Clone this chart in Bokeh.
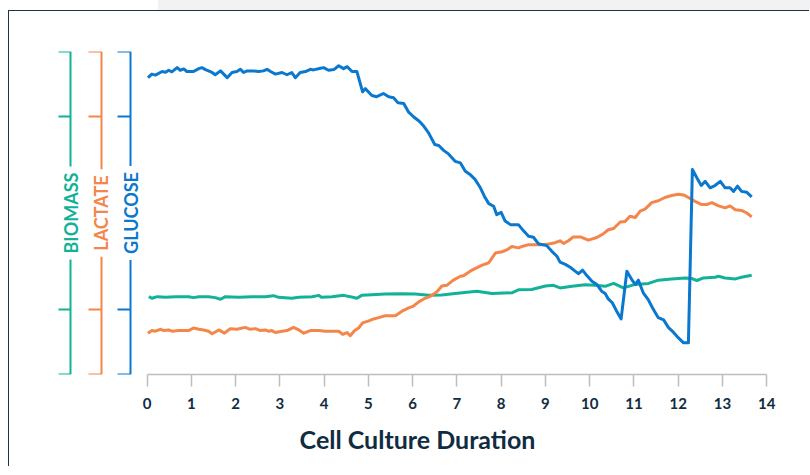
import math
from bokeh.plotting import figure
from bokeh.models import Range1d, LinearAxis, FixedTicker, Label
from bokeh.embed import file_html
from bokeh.resources import INLINE

# ---- data ----
glucose_days = [0.02, 0.11, 0.19, 0.34, 0.42, 0.49, 0.56, 0.68, 0.75, 0.83, 0.90, 1.05, 1.17, 1.24, 1.32,
                1.47, 1.54, 1.66, 1.81, 1.92, 2.03, 2.11, 2.18, 2.26, 2.41, 2.52, 2.63, 2.71, 2.79, 2.90,
                3.05, 3.16, 3.27, 3.35, 3.46, 3.58, 3.69, 3.76, 3.92, 3.99, 4.10, 4.22, 4.33, 4.44, 4.52,
                4.63, 4.74, 4.87, 4.93, 5.08, 5.19, 5.34, 5.46, 5.57, 5.67, 5.80, 5.91, 6.02, 6.15, 6.25,
                6.36, 6.50, 6.59, 6.70, 6.81, 6.96, 7.08, 7.19, 7.30, 7.41, 7.53, 7.64, 7.72, 7.83, 7.90,
                8.00, 8.09, 8.21, 8.39, 8.51, 8.62, 8.73, 8.84, 9.03, 9.14, 9.26, 9.33, 9.45, 9.56, 9.67,
                9.75, 9.84, 9.93, 10.05, 10.16, 10.27, 10.35, 10.42, 10.51, 10.61, 10.71, 10.84, 10.95,
                11.03, 11.10, 11.21, 11.33, 11.44, 11.55, 11.67, 11.78, 11.89, 12.00, 12.12, 12.23, 12.32,
                12.42, 12.52, 12.61, 12.72, 12.83, 12.95, 13.06, 13.17, 13.25, 13.34, 13.43, 13.55, 13.66]
glucose = [9.19, 9.30, 9.27, 9.38, 9.36, 9.42, 9.37, 9.50, 9.42, 9.46, 9.38, 9.38, 9.47, 9.50, 9.44,
           9.35, 9.28, 9.40, 9.19, 9.35, 9.38, 9.45, 9.35, 9.40, 9.40, 9.38, 9.40, 9.45, 9.38, 9.30,
           9.35, 9.28, 9.35, 9.19, 9.35, 9.38, 9.45, 9.43, 9.48, 9.50, 9.42, 9.44, 9.56, 9.47, 9.53,
           9.38, 9.38, 8.75, 8.85, 8.64, 8.60, 8.70, 8.60, 8.57, 8.41, 8.39, 8.12, 7.98, 7.84, 7.69,
           7.48, 7.12, 7.09, 6.94, 6.83, 6.60, 6.55, 6.29, 6.19, 6.04, 5.78, 5.47, 5.29, 5.21, 4.95,
           5.02, 4.75, 4.64, 4.64, 4.44, 4.28, 4.25, 4.05, 3.99, 3.82, 3.66, 3.48, 3.41, 3.32, 3.20,
           3.12, 3.23, 3.07, 2.89, 2.79, 2.58, 2.51, 2.34, 2.22, 1.96, 1.72, 3.20, 2.94,
           2.79, 2.92, 2.53, 2.30, 2.01, 1.76, 1.69, 1.45, 1.31, 1.14, 0.98, 0.98, 6.35,
           6.09, 5.85, 5.98, 5.78, 5.85, 5.98, 5.78, 5.78, 5.67, 5.83, 5.67, 5.64, 5.50]

lactate_days = [0.02, 0.11, 0.19, 0.30, 0.38, 0.49, 0.56, 0.72, 0.94, 1.05, 1.17, 1.28, 1.39, 1.47, 1.62,
                1.75, 1.88, 2.03, 2.22, 2.33, 2.45, 2.56, 2.67, 2.75, 2.82, 2.90, 3.05, 3.16, 3.31, 3.43,
                3.54, 3.69, 3.88, 4.03, 4.18, 4.33, 4.42, 4.52, 4.59, 4.69, 4.78, 4.87, 5.01, 5.12, 5.23,
                5.38, 5.61, 5.76, 5.91, 6.02, 6.13, 6.25, 6.40, 6.55, 6.66, 6.77, 6.92, 7.08, 7.15, 7.30,
                7.41, 7.56, 7.72, 7.87, 8.02, 8.13, 8.24, 8.39, 8.51, 8.62, 8.77, 8.92, 9.07, 9.22, 9.33,
                9.41, 9.52, 9.63, 9.79, 9.97, 10.16, 10.31, 10.42, 10.54, 10.69, 10.80, 10.91, 11.03,
                11.14, 11.25, 11.40, 11.55, 11.70, 11.85, 12.00, 12.12, 12.23, 12.38, 12.53, 12.64,
                12.76, 12.91, 13.06, 13.17, 13.29, 13.43, 13.55, 13.66]
lactate = [0.64, 0.68, 0.67, 0.70, 0.68, 0.69, 0.67, 0.68, 0.68, 0.72, 0.70, 0.69, 0.67, 0.63, 0.69,
           0.64, 0.71, 0.70, 0.73, 0.70, 0.71, 0.68, 0.69, 0.67, 0.68, 0.65, 0.67, 0.68, 0.73, 0.69,
           0.64, 0.68, 0.68, 0.67, 0.67, 0.67, 0.62, 0.65, 0.60, 0.68, 0.72, 0.80, 0.83, 0.86, 0.88,
           0.91, 0.91, 0.98, 1.03, 1.06, 1.12, 1.17, 1.21, 1.28, 1.37, 1.38, 1.46, 1.52, 1.53, 1.60,
           1.64, 1.69, 1.73, 1.88, 1.90, 1.93, 1.98, 1.96, 1.99, 2.01, 2.01, 2.01, 2.02, 2.04, 2.07,
           2.03, 2.07, 2.13, 2.13, 2.08, 2.12, 2.18, 2.24, 2.26, 2.36, 2.37, 2.45, 2.43,
           2.53, 2.56, 2.66, 2.69, 2.74, 2.77, 2.79, 2.78, 2.74, 2.68, 2.63, 2.63,
           2.66, 2.61, 2.58, 2.61, 2.55, 2.54, 2.50, 2.44]

biomass_days = [0.04, 0.11, 0.23, 0.42, 0.64, 0.94, 1.05, 1.17, 1.39, 1.54, 1.66, 1.77, 2.07, 2.37, 2.67,
                2.86, 2.97, 3.27, 3.43, 3.73, 3.88, 3.94, 4.18, 4.44, 4.59, 4.74, 4.85, 5.08, 5.38, 5.76,
                6.06, 6.36, 6.66, 6.96, 7.45, 7.79, 8.24, 8.39, 8.69, 9.00, 9.18, 9.33, 9.60, 9.90, 10.12,
                10.35, 10.54, 10.76, 11.03, 11.33, 11.55, 11.85, 12.16, 12.31, 12.42, 12.57, 12.83, 12.91,
                13.06, 13.29, 13.43, 13.66]
biomass = [2.41, 2.36, 2.41, 2.39, 2.41, 2.41, 2.38, 2.41, 2.41, 2.38, 2.33, 2.41, 2.39, 2.41, 2.41,
           2.44, 2.39, 2.36, 2.39, 2.41, 2.45, 2.39, 2.41, 2.45, 2.41, 2.36, 2.45, 2.47, 2.49, 2.50,
           2.49, 2.45, 2.46, 2.51, 2.58, 2.51, 2.53, 2.62, 2.63, 2.74, 2.76, 2.68, 2.73, 2.78, 2.76,
           2.73, 2.82, 2.68, 2.79, 2.82, 2.92, 2.96, 2.99, 2.97, 2.91, 2.99, 3.01, 3.04,
           2.99, 2.96, 3.01, 3.07]

x_ticks = list(range(0, 15))
axis_names = ["GLUCOSE", "LACTATE", "BIOMASS"]

# ---- styling ----
C_GLU = "#0a78cf"
C_LAC = "#f4864a"
C_BIO = "#13b199"
NAVY = "#102c3f"
GREY = "#bdbdbd"
FONT = "Lato"

p = figure(frame_width=718, frame_height=323,
           x_range=Range1d(-2.0, 14.22), y_range=Range1d(0, 5),
           output_backend="svg", toolbar_location=None, y_axis_location=None,
           min_border_left=49, min_border_top=40, min_border_right=33, min_border_bottom=92)
p.outline_line_color = None
p.grid.grid_line_color = None
p.background_fill_color = "white"
p.border_fill_color = "white"

p.extra_y_ranges = {
    "glucose": Range1d(0, 10),
    "lactate": Range1d(0, 5),
    "biomass": Range1d(0, 10),
}

xa = p.xaxis[0]
xa.ticker = FixedTicker(ticks=x_ticks)
xa.bounds = (0, 14)
xa.axis_line_color = GREY
xa.axis_line_width = 1.5
xa.major_tick_line_color = GREY
xa.major_tick_line_width = 1.5
xa.major_tick_out = 12
xa.major_tick_in = 0
xa.minor_tick_line_color = None
xa.major_label_text_font = FONT
xa.major_label_text_font_style = "bold"
xa.major_label_text_font_size = "15px"
xa.major_label_text_color = NAVY
xa.major_label_standoff = 11
xa.axis_label = "Cell Culture Duration"
xa.axis_label_text_font = FONT
xa.axis_label_text_font_style = "bold"
xa.axis_label_text_font_size = "25px"
xa.axis_label_text_color = NAVY
xa.axis_label_standoff = 12

axes_spec = [
    ("glucose", [0, 2, 8, 10], C_GLU, -0.366, axis_names[0]),
    ("lactate", [0, 1, 4, 5], C_LAC, -1.035, axis_names[1]),
    ("biomass", [0, 2, 8, 10], C_BIO, -1.727, axis_names[2]),
]
for name, ticks, color, loc, label in axes_spec:
    ax = LinearAxis(y_range_name=name, fixed_location=loc, ticker=FixedTicker(ticks=ticks),
                    axis_line_color=color, axis_line_width=2,
                    major_tick_line_color=color, major_tick_line_width=2,
                    major_tick_out=13, major_tick_in=0, minor_tick_line_color=None,
                    major_label_text_color=None, major_label_text_alpha=0,
                    major_label_text_font_size="1px", major_label_standoff=0)
    p.add_layout(ax, "left")
    p.add_layout(Label(x=loc, y=2.5, text=label, angle=math.pi / 2,
                       text_align="center", text_baseline="middle",
                       text_color=color, text_font=FONT, text_font_style="bold",
                       text_font_size="18px", background_fill_color="white", padding=6))

p.line(biomass_days, biomass, y_range_name="biomass", line_color=C_BIO, line_width=3, line_join="round")
p.line(lactate_days, lactate, y_range_name="lactate", line_color=C_LAC, line_width=3, line_join="round")
p.line(glucose_days, glucose, y_range_name="glucose", line_color=C_GLU, line_width=3, line_join="round")

p.styles = {"border-left": "1.5px solid #1d3448", "border-top": "1.5px solid #1d3448",
            "margin-top": "10px", "margin-left": "8px",
            "box-shadow": "-70px -235px 0 -220px #f2f2f2, 280px -235px 0 -220px #f2f2f2"}

open("out.html", "w").write(file_html(p, INLINE))
